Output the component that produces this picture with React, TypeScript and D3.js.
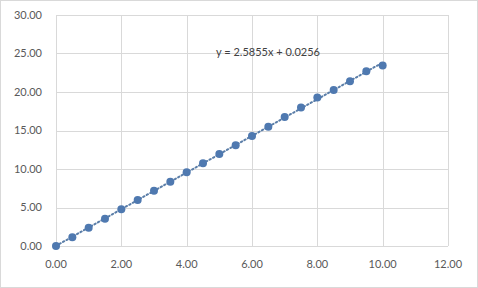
import React from "react";
import * as d3 from "d3";

const xValues = [0, 0.5, 1, 1.5, 2, 2.5, 3, 3.5, 4, 4.5, 5, 5.5, 6, 6.5, 7, 7.5, 8, 8.5, 9, 9.5, 10];
const yValues = [0, 1.13, 2.38, 3.55, 4.76, 5.97, 7.18, 8.35, 9.57, 10.74, 11.95, 13.1, 14.3, 15.5, 16.75, 18.0, 19.3, 20.26, 21.4, 22.7, 23.45];
const xTicks = [0, 2, 4, 6, 8, 10, 12];
const yTicks = [0, 5, 10, 15, 20, 25, 30];
const equationLabel = "y = 2.5855x + 0.0256";

const W = 478;
const H = 288;
const margin = { left: 56, right: 30, top: 15, bottom: 42 };
const FONT = "Lato, 'Open Sans', sans-serif";
const COLOR = "#4f79b0";

export default function App() {
  const x = d3.scaleLinear().domain([0, 12]).range([margin.left, W - margin.right]);
  const y = d3.scaleLinear().domain([0, 30]).range([H - margin.bottom, margin.top]);
  const fmt = d3.format(".2f");

  // least squares trendline
  const mx = d3.mean(xValues)!;
  const my = d3.mean(yValues)!;
  let num = 0, den = 0;
  xValues.forEach((xv, i) => { num += (xv - mx) * (yValues[i] - my); den += (xv - mx) ** 2; });
  const slope = num / den;
  const icpt = my - slope * mx;
  const x0 = xValues[0], x1 = xValues[xValues.length - 1];

  return (
    <svg width={W} height={H} style={{ position: "absolute", left: 0, top: 0, background: "#fff" }} fontFamily={FONT}>
      <rect x={0.5} y={0.5} width={W - 1} height={H - 1} fill="#fff" stroke="#d9d9d9" />
      {yTicks.map((t) => (
        <line key={"gy" + t} x1={x(0)} x2={x(12)} y1={Math.round(y(t)) + 0.5} y2={Math.round(y(t)) + 0.5} stroke="#d9d9d9" strokeWidth={1} />
      ))}
      {xTicks.map((t) => (
        <line key={"gx" + t} y1={y(0)} y2={y(30)} x1={Math.round(x(t)) + 0.5} x2={Math.round(x(t)) + 0.5} stroke="#d9d9d9" strokeWidth={1} />
      ))}
      {yTicks.map((t) => (
        <text key={"ly" + t} x={42} y={y(t)} dy="0.35em" textAnchor="end" fontSize={11} fill="#595959">{fmt(t)}</text>
      ))}
      {xTicks.map((t) => (
        <text key={"lx" + t} x={x(t)} y={y(0) + 18} dy="0.35em" textAnchor="middle" fontSize={11} fill="#595959">{fmt(t)}</text>
      ))}
      <line x1={x(x0)} y1={y(slope * x0 + icpt)} x2={x(x1)} y2={y(slope * x1 + icpt)} stroke="#5b7ea8" strokeWidth={2} strokeDasharray="1.5 2.5" strokeLinecap="round" />
      {xValues.map((xv, i) => (
        <circle key={"p" + i} cx={x(xv)} cy={y(yValues[i])} r={4} fill={COLOR} />
      ))}
      <text x={216} y={52} dy="0.35em" fontSize={11} fill="#404040">{equationLabel}</text>
    </svg>
  );
}
